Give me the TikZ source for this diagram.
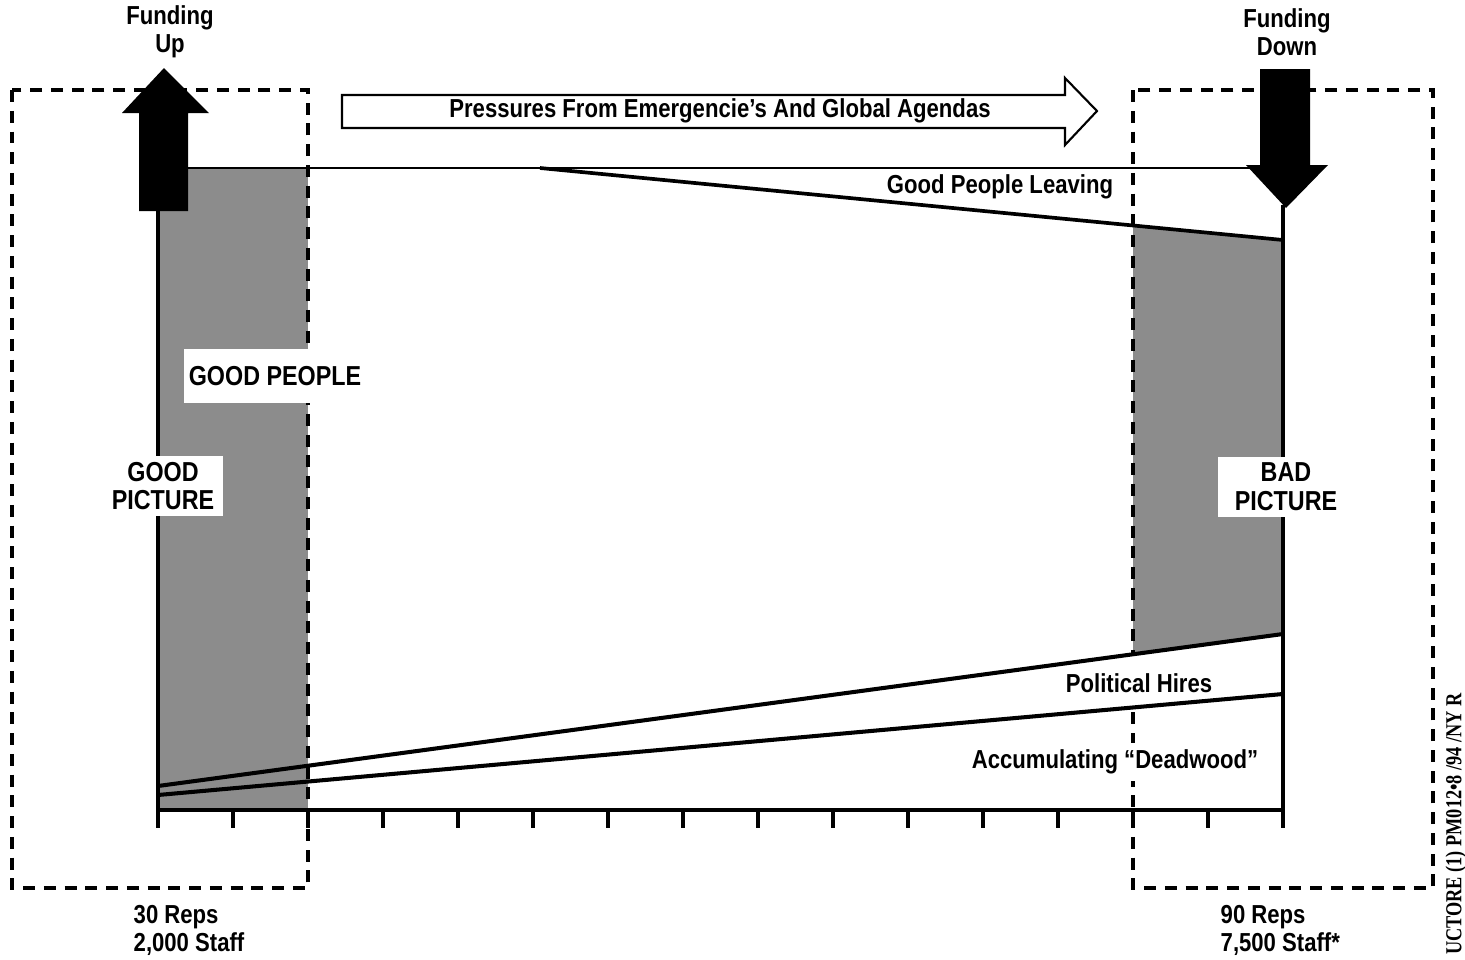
\documentclass[tikz,border=0pt]{standalone}
\usepackage{fontspec}
\setmainfont[FakeStretch=0.85]{Liberation Sans}
\newfontfamily\stampfont[FakeStretch=0.8]{Liberation Serif}
\usetikzlibrary{calc}

\tikzset{
    axis/.style={line width=1.15pt},
    shade/.style={fill=black!45},
    dashbox/.style={line width=1.15pt, dash pattern=on 3.4pt off 2.5pt},
    chart text/.style={font=\bfseries\fontsize{7.4}{8}\selectfont, align=center, inner sep=0pt},
    white tag/.style={chart text, fill=white, font=\bfseries\fontsize{7.8}{8.2}\selectfont},
}

\begin{document}
\begin{tikzpicture}[x=0.01cm, y=-0.01cm]
    \useasboundingbox (0,0) rectangle (1465,960);

    % shaded good people
    \fill[shade] (158,168) rectangle (308,810);
    \fill[shade] (1133,226) -- (1283,240) -- (1283,634) -- (1133,654) -- cycle;

    % dashed boxes
    \draw[dashbox] (12,90) rectangle (308,888);
    \draw[dashbox] (1133,90) rectangle (1433,888);

    % political hires band
    \fill[white] (312,765.2) -- (1283,634) -- (1283,694) -- (312,781.2) -- cycle;

    % axes and ticks
    \coordinate (o) at (158,810);
    \coordinate (e) at (1283,810);
    \draw[axis] (158,168) -- (158,828);
    \draw[axis] (1283,205) -- (1283,828);
    \draw[axis] (o) -- (e);
    \foreach \i in {1,...,14}
        \draw[axis] ($(o)+(75*\i,0)$) -- ++(0,18);

    % bands
    \draw[line width=0.7pt] (158,168) -- (1255,168);
    \draw[line width=1.05pt] (540,168) -- (1283,240);
    \draw[axis] (158,786) -- (1283,634);
    \draw[axis] (158,795) -- (1283,694);

    % funding arrows
    \fill (139,211) -- (139,113) -- (122,113) -- (164,68) -- (209,113) -- (188,113) -- (188,211) -- cycle;
    \fill (1260,69) -- (1310,69) -- (1310,165) -- (1328,165) -- (1286,208) -- (1246,165) -- (1260,165) -- cycle;
    \node[chart text] (fup) at (170,32) {Funding\\Up};
    \node[chart text] (fdown) at (1287,32) {Funding\\Down};

    % pressures arrow
    \draw[line width=0.6pt, fill=white] (342,95) -- (1065,95) -- (1065,78) -- (1097,111)
        -- (1065,145) -- (1065,128) -- (342,128) -- cycle;
    \node[chart text] (press) at (720,111) {Pressures From Emergencie’s And Global Agendas};

    \node[chart text] (leave) at (1000,187) {Good People Leaving};
    \node[chart text] (hires) at (1139,683) {Political Hires};
    \node[chart text, fill=white, inner sep=2pt] (dead) at (1115,762) {Accumulating “Deadwood”};

    % tags
    \node[white tag, inner xsep=1.5pt, inner ysep=5pt] (goodpeople) at (275,376) {GOOD PEOPLE};
    \node[white tag, minimum width=1.2cm, minimum height=0.6cm] (goodpic) at (163,486) {GOOD\\PICTURE};
    \node[white tag, minimum width=1.36cm, minimum height=0.6cm] (badpic) at (1286,487) {BAD\\PICTURE};

    % sizes
    \node[chart text, align=left, anchor=west] (left size) at (133,930) {30 Reps\\2,000 Staff};
    \node[chart text, align=left, anchor=west] (right size) at (1220,930) {90 Reps\\7,500 Staff*};

    \node[rotate=90, inner sep=0pt, font=\stampfont\bfseries\fontsize{6.5}{7}\selectfont] (stamp) at (1456,824) {UCTORE (1) PM012•8 /94 /NY R};
\end{tikzpicture}
\end{document}
